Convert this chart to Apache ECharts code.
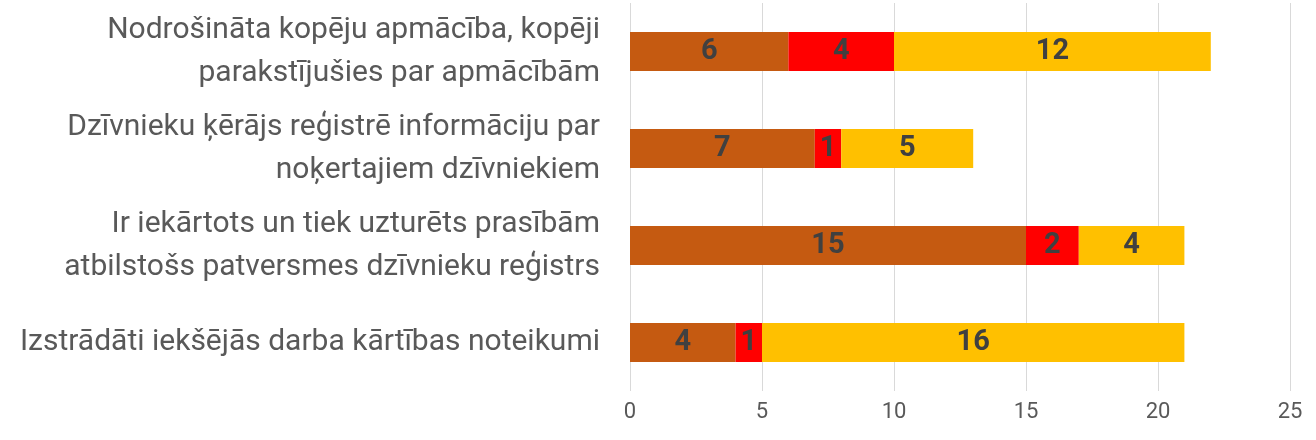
<!DOCTYPE html>
<html>
<head>
<meta charset="utf-8">
<script src="https://cdn.jsdelivr.net/npm/echarts@6/dist/echarts.min.js"></script>
<style>html,body{margin:0;padding:0;background:#fff}#c{width:1316px;height:440px}</style>
</head>
<body>
<div id="c"></div>
<script>
const categories = [
  "Nodrošināta kopēju apmācība, kopēji\nparakstījušies par apmācībām",
  "Dzīvnieku ķērājs reģistrē informāciju par\nnoķertajiem dzīvniekiem",
  "Ir iekārtots un tiek uzturēts prasībām\natbilstošs patversmes dzīvnieku reģistrs",
  "Izstrādāti iekšējās darba kārtības noteikumi"
];
const seriesA = [6, 7, 15, 4];
const seriesB = [4, 1, 2, 1];
const seriesC = [12, 5, 4, 16];
const xTicks = [0, 5, 10, 15, 20, 25];

const colors = ["#C55A11", "#FF0000", "#FFC000"];
const font = "Roboto, Noto Sans, sans-serif";
function mk(name, data, color) {
  return {
    name: name, type: "bar", stack: "s", data: data, barWidth: "40%",
    itemStyle: { color: color },
    label: { show: true, position: "inside", color: "#404040", fontSize: 29, fontWeight: "bold", fontFamily: font }
  };
}
const chart = echarts.init(document.getElementById("c"));
chart.setOption({
  animation: false,
  grid: { left: 630, right: 26, top: 3, bottom: 49, containLabel: false },
  xAxis: {
    type: "value", min: xTicks[0], max: xTicks[xTicks.length - 1], interval: 5,
    axisLine: { show: false }, axisTick: { show: false },
    splitLine: { show: true, lineStyle: { color: "#D9D9D9", width: 1 } },
    axisLabel: { color: "#595959", fontSize: 22, fontFamily: font, margin: 10 }
  },
  yAxis: {
    type: "category", data: categories, inverse: true,
    axisLine: { show: false }, axisTick: { show: false },
    axisLabel: { color: "#595959", fontSize: 30, fontFamily: font, margin: 30, lineHeight: 43, align: "right" }
  },
  series: [mk("A", seriesA, colors[0]), mk("B", seriesB, colors[1]), mk("C", seriesC, colors[2])]
});
</script>
</body>
</html>
